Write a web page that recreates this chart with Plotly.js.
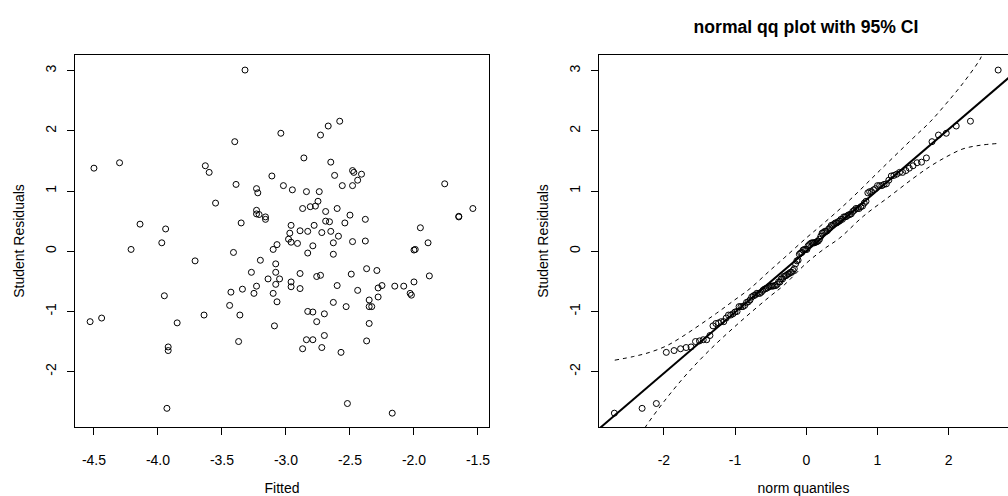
<!DOCTYPE html>
<html>
<head>
<meta charset="utf-8">
<script src="https://cdn.plot.ly/plotly-3.0.1.min.js"></script>
<style>
  html, body { margin: 0; padding: 0; background: #fff; }
  #chart { width: 1008px; height: 496px; }
</style>
</head>
<body>
<div id="chart"></div>
<script>
// fitted values and studentized residuals
const fitted = [
  -3.32, -3.04, -3.40, -4.50, -4.30, -3.63, -3.60, -2.86, -3.11, -3.39,
  -3.23, -3.22, -3.02, -2.95, -2.84, -3.55, -2.87, -3.23, -3.21, -3.23,
  -3.16, -3.16, -3.35, -4.14, -3.94, -3.97, -4.21, -2.96, -2.97, -2.89,
  -2.83, -2.98, -2.96, -2.91, -3.07, -3.10, -3.41, -2.83, -3.71, -3.20,
  -3.27, -3.08, -3.08, -2.89, -3.14, -3.05, -3.08, -3.23, -2.96, -2.96,
  -2.89, -3.34, -3.43, -3.25, -3.10, -3.07, -3.95, -3.44, -3.64, -3.36,
  -2.83, -4.53, -4.44, -3.85, -3.09, -3.37, -2.84, -2.87, -3.92, -3.92,
  -3.93, -2.58, -2.67, -2.73, -2.65, -2.48, -2.47, -2.41, -2.62, -2.44,
  -2.48, -2.56, -1.76, -2.74, -2.75, -2.77, -2.81, -2.60, -2.69, -2.50,
  -1.54, -1.65, -1.65, -2.38, -2.69, -2.66, -2.54, -2.78, -2.59, -2.72,
  -2.65, -2.63, -2.48, -2.38, -2.79, -1.95, -1.89, -2.00, -1.99, -2.63,
  -2.76, -2.73, -2.60, -2.49, -2.37, -2.29, -2.44, -2.28, -2.25, -2.15,
  -2.08, -2.00, -1.88, -2.03, -2.02, -2.35, -2.35, -2.33, -2.28, -2.63,
  -2.53, -2.79, -2.70, -2.76, -2.35, -2.70, -2.79, -2.37, -2.72, -2.57,
  -2.52, -2.17
]
const residuals = [
  3.01, 1.96, 1.82, 1.38, 1.47, 1.42, 1.31, 1.55, 1.25, 1.11,
  1.04, 0.97, 1.09, 1.02, 0.99, 0.80, 0.71, 0.68, 0.61, 0.62,
  0.57, 0.53, 0.47, 0.45, 0.37, 0.14, 0.03, 0.43, 0.30, 0.34,
  0.33, 0.20, 0.15, 0.13, 0.11, 0.03, -0.02, -0.03, -0.16, -0.15,
  -0.35, -0.21, -0.35, -0.37, -0.46, -0.46, -0.55, -0.58, -0.51, -0.59,
  -0.62, -0.63, -0.68, -0.70, -0.70, -0.84, -0.74, -0.90, -1.06, -1.06,
  -1.00, -1.17, -1.11, -1.19, -1.24, -1.50, -1.47, -1.62, -1.59, -1.65,
  -2.61, 2.16, 2.08, 1.93, 1.48, 1.34, 1.31, 1.28, 1.26, 1.18,
  1.09, 1.09, 1.12, 0.99, 0.83, 0.75, 0.74, 0.71, 0.66, 0.60,
  0.71, 0.57, 0.58, 0.53, 0.50, 0.49, 0.47, 0.43, 0.25, 0.31,
  0.33, 0.14, 0.16, 0.17, 0.09, 0.39, 0.14, 0.02, 0.03, -0.05,
  -0.42, -0.40, -0.57, -0.38, -0.29, -0.32, -0.65, -0.61, -0.57, -0.58,
  -0.58, -0.51, -0.41, -0.70, -0.73, -0.81, -0.92, -0.92, -0.76, -0.85,
  -0.92, -1.01, -1.04, -1.17, -1.20, -1.40, -1.47, -1.49, -1.60, -1.68,
  -2.53, -2.69
]

// reference line and 95% envelope
const lineQ = [-3, 3]
const lineR = [-3.04, 3.04]
const upperQ = [-2.69, -2.43, -2.2, -1.96, -1.73, -1.49, -1.26, -1.03, -0.79, -0.51, -0.3, 0, 0.24, 0.6, 1.04, 1.5, 1.74, 1.97, 2.2, 2.44, 2.48]
const upperR = [-1.81, -1.75, -1.68, -1.57, -1.41, -1.22, -1.03, -0.83, -0.62, -0.32, -0.1, 0.22, 0.46, 0.84, 1.35, 1.88, 2.15, 2.46, 2.79, 3.19, 3.3]
const lowerQ = [-2.32, -2.27, -2.0, -1.73, -1.49, -1.26, -1.03, -0.79, -0.51, -0.31, 0, 0.24, 0.47, 0.8, 1.18, 1.5, 1.74, 1.97, 2.2, 2.44, 2.69]
const lowerR = [-3.05, -2.94, -2.5, -2.11, -1.8, -1.53, -1.28, -1.03, -0.75, -0.56, -0.2, 0.03, 0.22, 0.58, 0.92, 1.21, 1.41, 1.57, 1.70, 1.76, 1.79]

// tick labels
const fittedTicks = [-4.5, -4.0, -3.5, -3.0, -2.5, -2.0, -1.5]
const fittedTickText = ['-4.5', '-4.0', '-3.5', '-3.0', '-2.5', '-2.0', '-1.5']
const residTicks = [-2, -1, 0, 1, 2, 3]
const residTickText = ['-2', '-1', '0', '1', '2', '3']
const quantTicks = [-2, -1, 0, 1, 2]
const quantTickText = ['-2', '-1', '0', '1', '2']

// inverse normal cdf (Acklam)
function qnorm (p) {
  const a = [-39.69683028665376, 220.9460984245205, -275.9285104469687, 138.3577518672690, -30.66479806614716, 2.506628277459239]
  const b = [-54.47609879822406, 161.5858368580409, -155.6989798598866, 66.80131188771972, -13.28068155288572]
  const c = [-0.007784894002430293, -0.3223964580411365, -2.400758277161838, -2.549732539343734, 4.374664141464968, 2.938163982698783]
  const d = [0.007784695709041462, 0.3224671290700398, 2.445134137142996, 3.754408661907416]
  const plow = 0.02425
  if (p < plow) {
    const q = Math.sqrt(-2 * Math.log(p))
    return (((((c[0] * q + c[1]) * q + c[2]) * q + c[3]) * q + c[4]) * q + c[5]) /
      ((((d[0] * q + d[1]) * q + d[2]) * q + d[3]) * q + 1)
  }
  if (p > 1 - plow) return -qnorm(1 - p)
  const q = p - 0.5
  const r = q * q
  return (((((a[0] * r + a[1]) * r + a[2]) * r + a[3]) * r + a[4]) * r + a[5]) * q /
    (((((b[0] * r + b[1]) * r + b[2]) * r + b[3]) * r + b[4]) * r + 1)
}

// qq points: sorted residuals against normal quantiles at ppoints(n)
const sortedRes = residuals.slice().sort((u, v) => u - v)
const n = sortedRes.length
const theoQ = sortedRes.map((r, i) => qnorm((i + 1 - 0.5) / n))

const font = { family: 'Liberation Sans, Arial, Helvetica, sans-serif', size: 14, color: '#000' }
const marker = { symbol: 'circle-open', size: 6, color: '#000', line: { width: 1, color: '#000' } }

const data = [
  { x: fitted, y: residuals, type: 'scatter', mode: 'markers', marker, xaxis: 'x', yaxis: 'y', hoverinfo: 'skip' },
  { x: upperQ, y: upperR, type: 'scatter', mode: 'lines', line: { color: '#000', width: 1, dash: '4px,4px', shape: 'spline' }, xaxis: 'x2', yaxis: 'y2', hoverinfo: 'skip' },
  { x: lowerQ, y: lowerR, type: 'scatter', mode: 'lines', line: { color: '#000', width: 1, dash: '4px,4px', shape: 'spline' }, xaxis: 'x2', yaxis: 'y2', hoverinfo: 'skip' },
  { x: lineQ, y: lineR, type: 'scatter', mode: 'lines', line: { color: '#000', width: 2 }, xaxis: 'x2', yaxis: 'y2', hoverinfo: 'skip' },
  { x: theoQ, y: sortedRes, type: 'scatter', mode: 'markers', marker, xaxis: 'x2', yaxis: 'y2', hoverinfo: 'skip' }
]

const axisBase = {
  showline: true,
  linecolor: '#000',
  linewidth: 1,
  ticks: 'outside',
  ticklen: 7,
  tickwidth: 1,
  tickcolor: '#000',
  showgrid: false,
  zeroline: false,
  fixedrange: true,
  tickmode: 'array',
  tickfont: font,
}

// x axes: labels pushed down like R's mgp
const xBase = { ...axisBase, ticklabelstandoff: 13 }
const yBase = { ...axisBase, ticklabelstandoff: 5, tickangle: -90 }

const layout = {
  width: 1008,
  height: 496,
  margin: { l: 0, r: 0, t: 0, b: 0 },
  paper_bgcolor: '#fff',
  plot_bgcolor: '#fff',
  showlegend: false,
  font,
  title: {
    text: 'normal qq plot with 95% CI',
    font: { family: font.family, size: 17.6, color: '#000', weight: 'bold' },
    xref: 'paper', yref: 'paper', x: 806 / 1008, y: 1 - 27 / 496, xanchor: 'center', yanchor: 'middle',
  },
  xaxis: {
    ...xBase,
    mirror: true,
    domain: [75 / 1008, 489 / 1008],
    range: [-4.648, -1.414],
    tickvals: fittedTicks,
    ticktext: fittedTickText,
    title: { text: 'Fitted', font, standoff: 19 },
    anchor: 'y',
  },
  yaxis: {
    ...yBase,
    mirror: true,
    domain: [1 - 427 / 496, 1 - 55 / 496],
    range: [-2.92, 3.26],
    tickvals: residTicks,
    ticktext: residTickText,
    title: { text: 'Student Residuals', font, standoff: 15 },
    anchor: 'x',
  },
  xaxis2: {
    ...xBase,
    mirror: true,
    domain: [599 / 1008, 1],
    range: [-2.911, 2.833],
    tickvals: quantTicks,
    ticktext: quantTickText,
    title: { text: 'norm quantiles', font, standoff: 19 },
    anchor: 'y2',
  },
  yaxis2: {
    ...yBase,
    mirror: false,
    domain: [1 - 427 / 496, 1 - 55 / 496],
    range: [-2.92, 3.26],
    tickvals: residTicks,
    ticktext: residTickText,
    title: { text: 'Student Residuals', font, standoff: 15 },
    anchor: 'x2',
  },
}

Plotly.newPlot('chart', data, layout, { displayModeBar: false, staticPlot: true })
</script>
</body>
</html>
